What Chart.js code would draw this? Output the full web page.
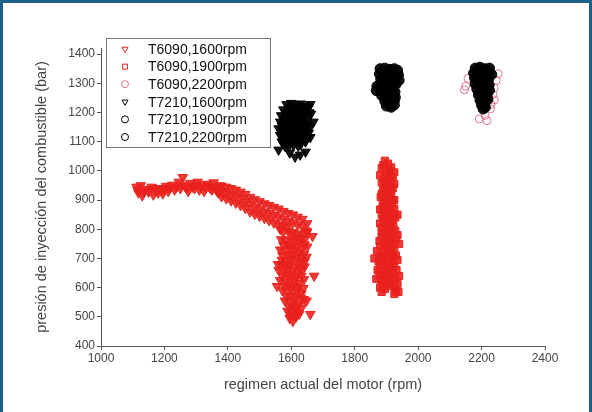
<!DOCTYPE html>
<html>
<head>
<meta charset="utf-8">
<script src="https://cdn.jsdelivr.net/npm/chart.js@4/dist/chart.umd.min.js"></script>
<style>
  body { margin: 0; background: #fff; }
  #frame {
    position: absolute; left: 0; top: 0; width: 592px; height: 412px;
    box-sizing: border-box; border: 3px solid #1d5f87; border-bottom: none; background: #fff;
  }
  canvas { display: block; }
</style>
</head>
<body>
<div id="frame"><canvas id="chart" width="586" height="409"></canvas></div>
<script>
const xTicks = [1000, 1200, 1400, 1600, 1800, 2000, 2200, 2400]
const yTicks = [400, 500, 600, 700, 800, 900, 1000, 1100, 1200, 1300, 1400]

const seriesLabels = ['T6090,1600rpm', 'T6090,1900rpm', 'T6090,2200rpm',
  'T7210,1600rpm', 'T7210,1900rpm', 'T7210,2200rpm']

// [rpm, bar]
const t6090_1600 = [
  [1112,945],[1118,925],[1125,950],[1130,915],[1140,938],[1150,928],[1160,945],[1165,918],[1175,932],[1185,940],
  [1195,922],[1205,948],[1212,930],[1225,952],[1232,935],[1245,962],[1250,940],[1258,978],[1265,948],[1275,930],
  [1282,958],[1295,940],[1305,962],[1315,945],[1325,930],[1335,955],[1345,940],[1355,960],[1365,932],[1375,950],
  [1115,935],[1135,928],[1155,935],[1170,940],[1180,925],[1190,932],[1200,938],[1218,942],[1238,945],[1255,952],
  [1270,940],[1288,945],[1300,950],[1310,935],[1320,952],[1330,942],[1340,948],[1350,935],[1360,945],[1370,925],
  [1380,948],[1380,930],[1380,912],[1395,945],[1395,925],[1395,905],[1410,940],[1410,918],[1410,898],
  [1425,935],[1425,912],[1425,890],[1440,928],[1440,905],[1440,882],[1455,920],[1455,895],[1455,872],
  [1470,910],[1470,885],[1470,860],[1485,902],[1485,876],[1485,852],[1500,895],[1500,868],[1500,845],
  [1515,888],[1515,860],[1515,838],[1530,882],[1530,855],[1530,830],[1545,876],[1545,848],[1545,822],
  [1560,870],[1560,842],[1560,815],[1575,862],[1575,835],[1590,855],[1590,828],[1605,850],[1605,822],
  [1620,842],[1620,815],[1635,835],[1635,808],[1650,820],[1648,795],
  [1565,800],[1575,790],[1590,795],[1605,790],[1620,785],[1635,780],[1645,770],
  [1572,812],[1588,810],[1600,780],[1615,772],[1630,768],[1650,790],
  [1568,765],[1582,760],[1598,765],[1612,760],[1628,755],[1642,748],
  [1575,745],[1590,748],[1605,745],[1620,740],[1635,735],[1650,740],
  [1565,730],[1580,725],[1595,735],[1610,728],[1625,720],[1640,715],
  [1572,710],[1588,712],[1603,715],[1618,708],[1632,702],[1648,705],
  [1570,695],[1585,690],[1600,700],[1615,692],[1630,685],[1642,690],
  [1568,678],[1582,672],[1597,680],[1612,672],[1627,668],[1642,672],
  [1560,660],[1575,655],[1590,665],[1605,658],[1620,650],[1635,660],
  [1572,640],[1588,645],[1602,640],[1617,635],[1632,640],
  [1565,625],[1580,620],[1595,630],[1610,622],[1625,615],[1640,628],
  [1578,605],[1592,610],[1607,605],[1622,600],[1638,598],
  [1572,590],[1588,585],[1602,595],[1618,588],[1632,580],
  [1585,570],[1600,572],[1615,570],[1630,565],
  [1580,555],[1595,550],[1610,558],[1625,545],[1640,560],
  [1592,535],[1605,538],[1618,535],[1632,530],
  [1588,520],[1600,515],[1612,525],[1625,510],
  [1598,505],[1610,505],[1620,515],
  [1595,495],[1605,485],[1615,500],
  [1667,776],[1672,640],[1660,509],[1648,555],[1555,605],[1558,680]
]
const t6090_1900 = [
  [1895,1035],[1905,1025],[1890,1020],[1885,1010],[1900,1005],[1915,1012],[1910,1000],[1880,985],[1895,990],
  [1910,980],[1925,995],[1892,972],[1905,968],[1920,980],[1885,960],[1900,955],[1915,965],[1895,948],[1910,945],
  [1925,955],[1890,935],[1905,930],[1920,940],[1885,922],[1900,920],[1915,928],[1882,910],[1898,905],[1912,915],
  [1925,900],[1890,895],[1905,890],[1920,900],[1888,880],[1903,875],[1918,885],[1880,868],[1895,862],[1910,865],
  [1925,870],[1885,850],[1900,845],[1915,855],[1928,840],[1890,835],[1905,830],[1920,835],[1880,820],[1895,815],
  [1910,825],[1922,810],[1885,805],[1900,802],[1915,808],[1928,795],[1885,790],[1900,785],[1915,795],[1935,780],
  [1885,775],[1900,770],[1915,778],[1930,765],[1878,760],[1893,755],[1908,765],[1922,750],[1880,742],[1895,740],
  [1910,745],[1925,735],[1870,725],[1885,720],[1900,730],[1915,722],[1930,710],[1878,708],[1893,705],[1908,710],
  [1922,705],[1875,690],[1890,695],[1905,685],[1920,690],[1935,695],[1880,675],[1895,678],[1910,672],[1925,675],
  [1872,660],[1888,655],[1902,665],[1918,650],[1932,660],[1878,645],[1893,642],[1908,648],[1922,640],
  [1868,630],[1883,625],[1898,635],[1912,620],[1928,630],[1940,640],[1890,612],[1905,618],[1920,615],[1935,612],
  [1880,600],[1895,595],[1912,605],[1928,598],[1938,585],[1925,578],[1885,585],[1930,588],
  [1935,850],[1940,750],[1862,700]
]
const t6090_2200 = [
  [2146,1278],[2157,1317],[2252,1333],[2246,1310],[2240,1285],[2236,1262],[2240,1243],
  [2228,1213],[2211,1190],[2217,1172],[2193,1178],[2230,1228],[2150,1290]
]
const t7210_1600 = [
  [1585,1228],[1600,1232],[1615,1225],[1630,1230],[1645,1222],[1660,1228],
  [1592,1220],[1608,1218],[1622,1218],[1638,1215],[1655,1218],
  [1575,1210],[1590,1205],[1605,1212],[1620,1208],[1635,1200],[1650,1210],
  [1583,1198],[1598,1198],[1613,1198],[1628,1195],[1643,1200],[1657,1200],
  [1568,1190],[1582,1185],[1597,1192],[1612,1188],[1627,1182],[1642,1190],[1662,1195],
  [1575,1178],[1590,1180],[1605,1178],[1620,1175],[1635,1178],[1650,1175],
  [1565,1168],[1578,1162],[1592,1170],[1607,1165],[1622,1160],[1637,1168],[1652,1160],[1670,1168],
  [1570,1155],[1585,1155],[1600,1155],[1615,1152],[1630,1155],[1645,1152],[1660,1150],
  [1560,1145],[1573,1140],[1588,1148],[1603,1142],[1618,1138],[1633,1145],[1648,1140],
  [1568,1132],[1582,1130],[1597,1132],[1612,1130],[1627,1128],[1642,1130],[1655,1130],
  [1565,1122],[1578,1118],[1593,1125],[1608,1120],[1623,1115],[1638,1122],[1660,1115],
  [1575,1110],[1590,1108],[1605,1110],[1620,1106],[1635,1108],[1650,1112],
  [1570,1100],[1585,1095],[1600,1102],[1615,1098],[1630,1092],[1645,1100],
  [1578,1090],[1592,1085],[1607,1088],[1622,1085],
  [1560,1072],[1595,1062],[1612,1048],[1628,1055],[1645,1065],[1580,1085]
]
const t7210_1900 = [
  [1880,1350],[1895,1352],[1910,1348],[1925,1350],[1935,1345],
  [1888,1342],[1903,1340],[1918,1342],
  [1878,1332],[1892,1335],[1907,1330],[1922,1334],[1938,1328],
  [1890,1324],[1905,1322],[1920,1325],
  [1882,1315],[1897,1318],[1912,1312],[1927,1316],[1940,1310],
  [1890,1305],[1905,1306],[1920,1304],
  [1870,1290],[1885,1295],[1900,1298],[1915,1292],[1930,1296],
  [1878,1283],[1893,1285],[1908,1284],[1922,1282],
  [1868,1275],[1882,1278],[1897,1272],[1912,1276],[1927,1270],
  [1892,1265],[1907,1265],[1920,1264],
  [1885,1258],[1900,1255],[1915,1260],[1928,1252],
  [1903,1246],[1918,1248],
  [1895,1238],[1910,1235],[1925,1240],
  [1908,1228],[1900,1222],[1915,1218],[1925,1226]
]
const t7210_2200 = [
  [2180,1352],[2195,1355],[2210,1350],[2225,1352],
  [2188,1345],[2203,1343],[2218,1344],
  [2175,1335],[2190,1338],[2205,1332],[2220,1336],[2232,1330],
  [2185,1326],[2200,1325],[2215,1327],
  [2178,1318],[2193,1315],[2208,1320],[2222,1314],
  [2188,1307],[2202,1308],[2216,1306],
  [2180,1298],[2195,1295],[2210,1300],[2224,1294],
  [2190,1288],[2205,1288],[2218,1286],
  [2185,1280],[2198,1275],[2212,1282],[2225,1276],
  [2196,1268],[2210,1268],
  [2190,1260],[2203,1255],[2218,1262],
  [2200,1250],[2213,1250],
  [2195,1242],[2208,1238],[2220,1245],
  [2200,1225],[2212,1218],[2208,1230],[2205,1212]
]

const pts = arr => arr.map(p => ({x: p[0], y: p[1]}))

const red = '#e8231f'
const redFill = 'rgba(235,32,28,0.88)'
const pink = '#e0758c'
const black = '#000'
const blackFill = 'rgba(0,0,0,0.92)'

const datasets = [
  {label: seriesLabels[0], data: pts(t6090_1600), pointStyle: 'triangle', rotation: 180, pointRadius: 5.5,
    borderColor: red, backgroundColor: redFill, order: 2},
  {label: seriesLabels[1], data: pts(t6090_1900), pointStyle: 'rect', pointRadius: 5,
    borderColor: red, backgroundColor: redFill, order: 2},
  {label: seriesLabels[2], data: pts(t6090_2200), pointStyle: 'circle', pointRadius: 4,
    borderColor: pink, backgroundColor: 'rgba(0,0,0,0)', order: 2},
  {label: seriesLabels[3], data: pts(t7210_1600), pointStyle: 'triangle', rotation: 180, pointRadius: 5.5,
    borderColor: black, backgroundColor: blackFill, order: 1},
  {label: seriesLabels[4], data: pts(t7210_1900), pointStyle: 'circle', pointRadius: 5,
    borderColor: black, backgroundColor: blackFill, order: 1},
  {label: seriesLabels[5], data: pts(t7210_2200), pointStyle: 'circle', pointRadius: 5,
    borderColor: black, backgroundColor: blackFill, order: 1}
]
datasets.forEach(d => { d.borderWidth = 1; d.showLine = false })

// legend box drawn inside the plot, like the original figure
const boxLegend = {
  id: 'boxLegend',
  afterDraw(chart) {
    const ctx = chart.ctx
    const x0 = 103, y0 = 35, w = 164, h = 109
    ctx.save()
    ctx.fillStyle = '#fff'
    ctx.fillRect(x0, y0, w, h)
    ctx.strokeStyle = '#777'
    ctx.lineWidth = 1
    ctx.strokeRect(x0 + 0.5, y0 + 0.5, w, h)
    ctx.font = '14px "Liberation Sans", Arial, sans-serif'
    ctx.textBaseline = 'middle'
    chart.data.datasets.forEach((d, i) => {
      const y = y0 + 11 + i * 17.6
      ctx.strokeStyle = d.borderColor
      ctx.fillStyle = 'rgba(0,0,0,0)'
      ctx.lineWidth = 1
      Chart.helpers.drawPoint(ctx, {pointStyle: d.pointStyle, rotation: d.rotation || 0, radius: 3.5, borderWidth: 1}, x0 + 19, y)
      ctx.fillStyle = '#111'
      ctx.fillText(d.label, x0 + 42, y + 1)
    })
    ctx.restore()
  }
}

const tickFont = {family: '"Liberation Sans", Arial, sans-serif', size: 12}
const titleFont = {family: '"Liberation Sans", Arial, sans-serif', size: 14.5}

new Chart(document.getElementById('chart').getContext('2d'), {
  type: 'scatter',
  data: {datasets: datasets},
  options: {
    responsive: false,
    animation: false,
    layout: {padding: {top: 45, right: 44, left: 0, bottom: 0}},
    plugins: {legend: {display: false}, tooltip: {enabled: false}},
    scales: {
      x: {
        type: 'linear', min: xTicks[0], max: xTicks[xTicks.length - 1],
        afterBuildTicks: s => { s.ticks = xTicks.map(v => ({value: v})) },
        afterFit: s => { s.height = 66 },
        grid: {drawOnChartArea: false, drawTicks: true, tickLength: 4, color: '#555'},
        border: {color: '#555'},
        ticks: {color: '#444', font: tickFont, padding: 1, maxRotation: 0, callback: v => String(v)},
        title: {display: true, text: 'regimen actual del motor (rpm)', color: '#444', font: titleFont,
          padding: {top: 0, bottom: 18}}
      },
      y: {
        type: 'linear', min: 400, max: 1421,
        afterBuildTicks: s => { s.ticks = yTicks.map(v => ({value: v})) },
        afterFit: s => { s.width = 98 },
        grid: {drawOnChartArea: false, drawTicks: true, tickLength: 4, color: '#555'},
        border: {color: '#555'},
        ticks: {color: '#444', font: tickFont, padding: 2, callback: v => String(v)},
        title: {display: true, text: 'presión de inyección del combustible (bar)', color: '#444', font: titleFont,
          padding: {top: 30, bottom: 0}}
      }
    }
  },
  plugins: [boxLegend]
})
</script>
</body>
</html>
